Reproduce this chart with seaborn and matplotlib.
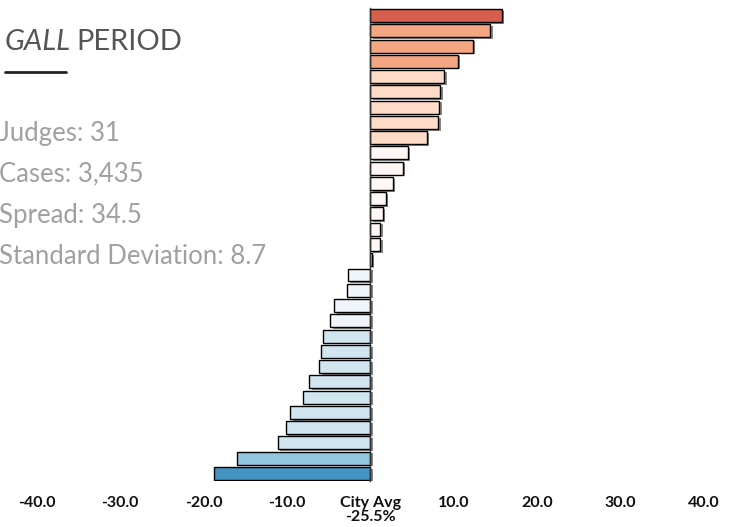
import matplotlib
matplotlib.use("Agg")
import matplotlib.pyplot as plt
import matplotlib.patheffects as pe
import pandas as pd
import seaborn as sns

# judge deviation from city average (percentage points)
judges = [f"J{i + 1}" for i in range(31)]
values = [15.8, 14.4, 12.3, 10.5, 8.9, 8.4, 8.3, 8.2, 6.8, 4.5, 3.9, 2.7, 1.9, 1.5, 1.2, 1.2, 0.2,
          -2.7, -2.8, -4.3, -4.8, -5.7, -5.9, -6.1, -7.3, -8.1, -9.6, -10.1, -11.1, -16.0, -18.7]
bar_colors = (["#d6604d"] + ["#f4a582"] * 3 + ["#fddbc7"] * 5 + ["#fff7f3"] * 8
              + ["#eff5fa"] * 4 + ["#d1e5f0"] * 8 + ["#92c5de"] + ["#4393c3"] * 2)
tick_vals = [-40, -30, -20, -10, 0, 10, 20, 30, 40]
tick_text = ["-40.0", "-30.0", "-20.0", "-10.0", "City Avg\n-25.5%", "10.0", "20.0", "30.0", "40.0"]
stats = ["Judges: 31", "Cases: 3,435", "Spread: 34.5", "Standard Deviation: 8.7"]

df = pd.DataFrame({"judge": judges, "value": values})

sns.set_style("white")
plt.rcParams["font.family"] = ["Lato", "DejaVu Sans"]

fig = plt.figure(figsize=(7.36, 5.27), dpi=100)
ax = fig.add_axes([0, 0.0871, 1, 0.898])

sns.barplot(data=df, x="value", y="judge", hue="judge", palette=bar_colors, saturation=1,
            legend=False, width=0.85, edgecolor="black", linewidth=1, ax=ax)
for p in ax.patches:
    p.set_path_effects([pe.SimplePatchShadow(offset=(1.8, -1.2), shadow_rgbFace="#555555", alpha=0.7),
                        pe.Normal()])

ax.set_xlim(-44.4, 43.9)
ax.set_ylim(30.5, -0.5)
ax.set_xlabel("")
ax.set_ylabel("")
for s in ["top", "right", "bottom"]:
    ax.spines[s].set_visible(False)
ax.spines["left"].set_position(("data", 0))
ax.spines["left"].set_color("#333333")
ax.spines["left"].set_linewidth(1)
ax.set_yticks([i - 0.5 for i in range(32)])
ax.set_yticklabels([])
ax.tick_params(axis="y", length=4, width=1, color="#333333", direction="out")
ax.set_xticks(tick_vals)
ax.set_xticklabels(tick_text, fontweight="bold", fontsize=11.5, color="#111111",
                   linespacing=0.95, va="top")
ax.tick_params(axis="x", length=0, pad=11)

# header block on the left
fig.text(5 / 736, 1 - 42 / 527, "GALL", fontsize=21, style="italic", color="#555555", va="center")
fig.text(76 / 736, 1 - 42 / 527, "PERIOD", fontsize=21, color="#555555", va="center")
fig.add_artist(plt.Line2D([5 / 736, 66 / 736], [1 - 72 / 527, 1 - 72 / 527], color="#222222", lw=2))
for i, s in enumerate(stats):
    fig.text(-1 / 736, 1 - (133 + 41 * i) / 527, s, fontsize=18.5,
             color="#a0a0a0", va="center")

fig.savefig("out.png", dpi=100)
